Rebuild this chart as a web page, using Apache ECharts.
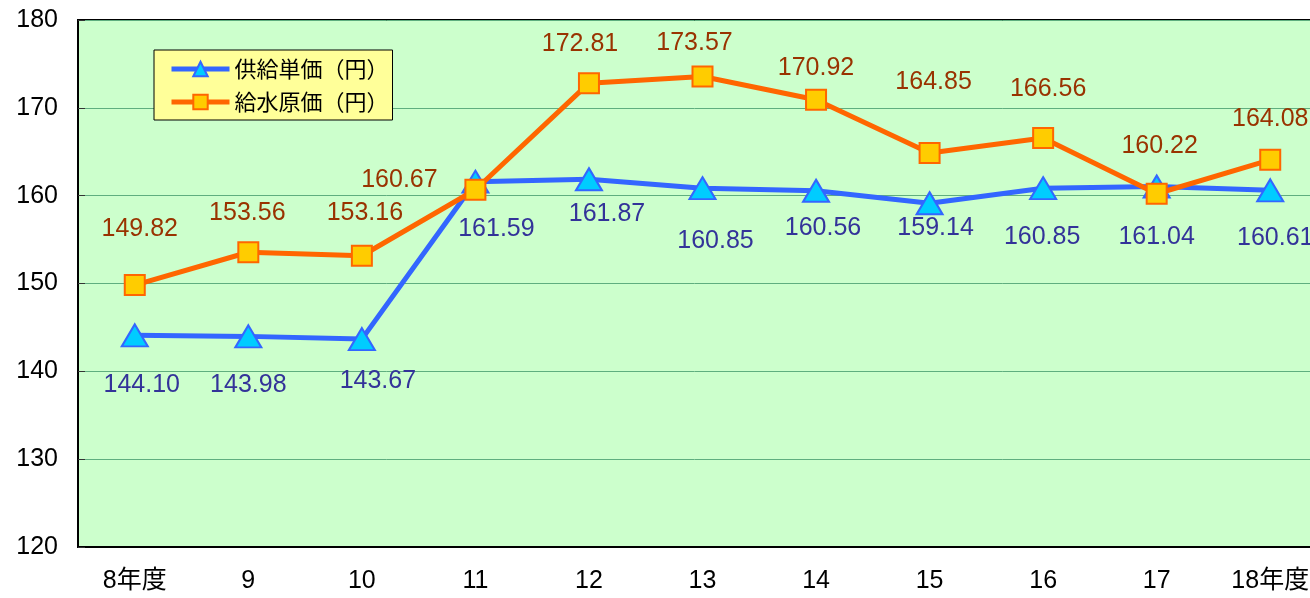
<!DOCTYPE html>
<html lang="ja">
  <head>
    <meta charset="UTF-8" />
    <title>供給単価と給水原価</title>
    <script src="https://cdn.jsdelivr.net/npm/echarts@6/dist/echarts.min.js"></script>
    <style>
      html, body { margin: 0; padding: 0; background: #fff; }
    </style>
  </head>
  <body>
    <div id="main" style="width: 1310px; height: 598px"></div>
    <script type="text/javascript">
      const years = ["8年度", "9", "10", "11", "12", "13", "14", "15", "16", "17", "18年度"];
      const supplyPrice = [144.10, 143.98, 143.67, 161.59, 161.87, 160.85, 160.56, 159.14, 160.85, 161.04, 160.61];
      const waterCost = [149.82, 153.56, 153.16, 160.67, 172.81, 173.57, 170.92, 164.85, 166.56, 160.22, 164.08];
      const yTicks = [120, 130, 140, 150, 160, 170, 180];

      // label offsets from each point (layout only)
      const supplyLabelShift = [[7, 50], [0, 49], [16, 42], [21, 47], [18, 35], [13, 53], [7, 37], [6, 25], [-1, 49], [0, 51], [5, 48]];
      const costLabelShift = [[5, -56], [-1, -39], [3, -43], [-76, -10], [-9, -39], [-8, -33], [0, -32], [4, -71], [5, -49], [3, -48], [0, -41]];

      const font = "'Liberation Sans', Arial, 'Noto Sans CJK JP', sans-serif";

      function withLabels(values, shifts) {
        return values.map((v, i) => ({ value: v, label: { offset: shifts[i] } }));
      }

      let myChart = echarts.init(document.getElementById("main"));

      let options = {
        animation: false,
        grid: {
          left: 78, top: 20, right: -17, bottom: 51,
          outerBoundsMode: "none",
          containLabel: false,
          show: true, backgroundColor: "#ccffcc",
          borderColor: "#000", borderWidth: 2,
        },
        legend: {
          orient: "vertical",
          left: 154, top: 50,
          padding: [8, 4, 7, 15],
          itemGap: 11,
          itemWidth: 58,
          itemHeight: 18,
          backgroundColor: "#ffff99",
          borderColor: "#000",
          borderWidth: 1,
          lineStyle: { width: 5 },
          textStyle: { fontSize: 22, lineHeight: 22, color: "#000", fontFamily: "'Noto Sans CJK JP', sans-serif" },
          data: ["供給単価（円）", "給水原価（円）"],
        },
        xAxis: {
          type: "category",
          data: years,
          boundaryGap: true,
          axisLine: { lineStyle: { color: "#000", width: 2 } },
          axisTick: { inside: true, length: 7, lineStyle: { color: "#333" } },
          axisLabel: { fontSize: 25, color: "#000", margin: 22, fontFamily: font },
        },
        yAxis: {
          type: "value",
          min: yTicks[0],
          max: yTicks[yTicks.length - 1],
          interval: 10,
          axisLine: { show: true, lineStyle: { color: "#000", width: 2 } },
          axisTick: { show: true, inside: true, length: 7, lineStyle: { color: "#333" } },
          axisLabel: { fontSize: 25, color: "#000", margin: 20, fontFamily: font },
          splitLine: { lineStyle: { color: "#5fae7f", width: 1 } },
        },
        series: [
          {
            name: "供給単価（円）",
            type: "line",
            z: 2,
            data: withLabels(supplyPrice, supplyLabelShift),
            symbol: "triangle",
            symbolSize: [26, 22],
            lineStyle: { color: "#3366ff", width: 5 },
            itemStyle: { color: "#00ccff", borderColor: "#3366ff", borderWidth: 2 },
            label: {
              show: true, position: "inside",
              formatter: (p) => p.value.toFixed(2),
              fontSize: 25, color: "#333399", fontFamily: font,
            },
          },
          {
            name: "給水原価（円）",
            type: "line",
            z: 3,
            data: withLabels(waterCost, costLabelShift),
            symbol: "rect",
            symbolSize: 20,
            lineStyle: { color: "#ff6600", width: 5 },
            itemStyle: { color: "#ffcc00", borderColor: "#ff6600", borderWidth: 2 },
            label: {
              show: true, position: "inside",
              formatter: (p) => p.value.toFixed(2),
              fontSize: 25, color: "#993300", fontFamily: font,
            },
          },
        ],
      };

      myChart.setOption(options);
    </script>
  </body>
</html>
